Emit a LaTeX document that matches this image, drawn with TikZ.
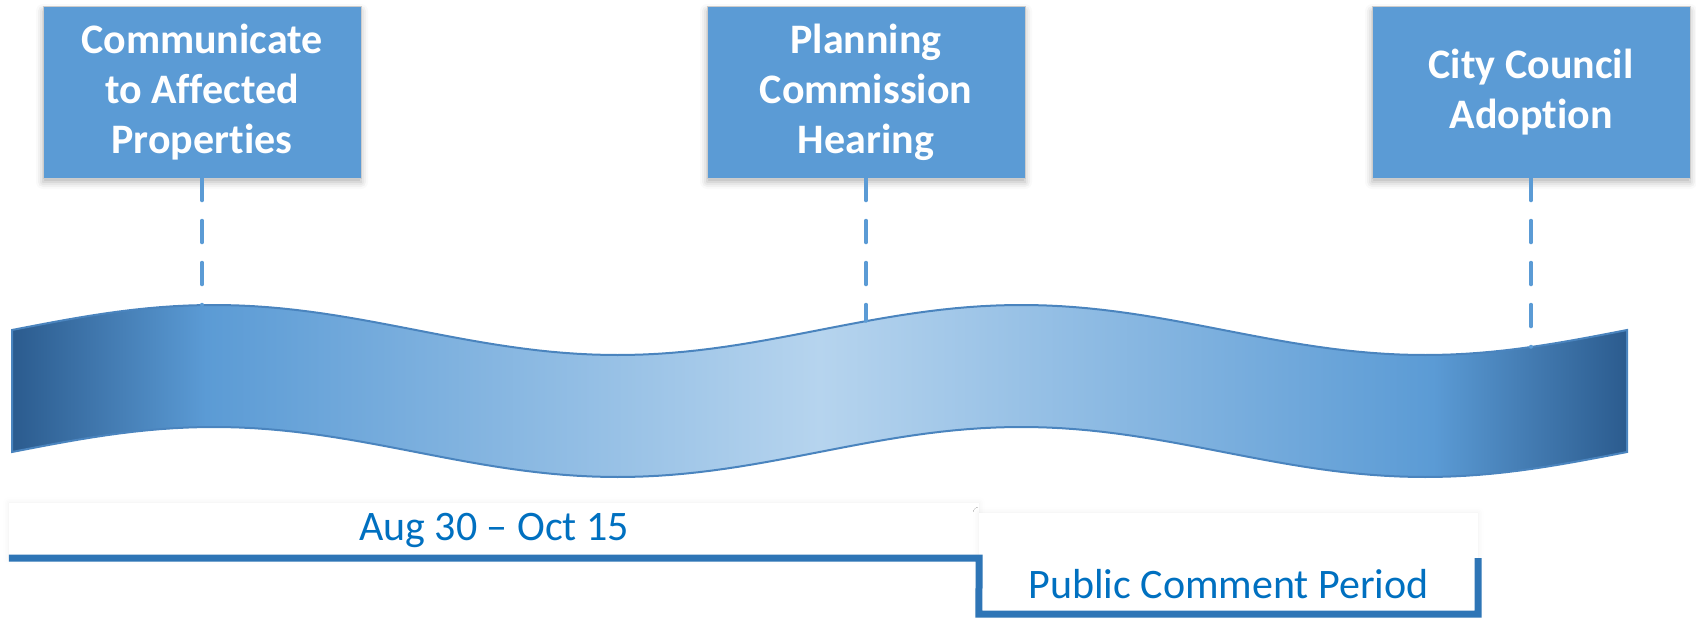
\documentclass[tikz,border=0pt]{standalone}
\usepackage{fontspec}
\setmainfont{Carlito}[Ligatures={TeX,NoCommon}]
\usepackage{tikz}
\usetikzlibrary{calc,positioning,shadows.blur}
\definecolor{stageblue}{HTML}{5B9BD5}
\definecolor{ribdark}{HTML}{2B5B8E}
\definecolor{riblight}{HTML}{B6D4EE}
\definecolor{ribedge}{HTML}{4A84BE}
\definecolor{brackblue}{HTML}{2E75B6}
\definecolor{periodblue}{HTML}{0070C0}
\pgfdeclarehorizontalshading{ribbonshade}{100bp}{color(0bp)=(ribdark); color(25bp)=(ribdark); color(31bp)=(stageblue); color(50bp)=(riblight); color(69bp)=(stageblue); color(75bp)=(ribdark); color(100bp)=(ribdark)}
\newcommand{\stageat}[3]{\node[stage] (#1) at #2 {#3} ;}
\newcommand{\dropline}[2]{\draw[tick] (#1.south)--(#2) ;}

\begin{document}
\begin{tikzpicture}[x=1pt,y=-1pt,
    stage/.style={rectangle,fill=stageblue,draw=gray!40,line width=1pt,
      minimum width=318pt,minimum height=171pt,text=white,align=center,
      font=\fontsize{42}{50}\selectfont\bfseries,
      blur shadow={shadow xshift=0pt,shadow yshift=-4pt,shadow blur radius=7pt,shadow opacity=30}},
    tick/.style={stageblue,line width=3.5pt,line cap=round,dash pattern=on 22pt off 20pt},
    ribbon/.style={shading=ribbonshade,draw=ribedge,line width=2pt},
    panel/.style={rectangle,fill=white,inner sep=0pt,
      blur shadow={shadow xshift=0pt,shadow yshift=0pt,shadow blur radius=6pt,shadow opacity=6}},
    period/.style={text=periodblue,font=\fontsize{42}{50}\selectfont},
    bracket/.style={draw=brackblue,line width=7pt,line join=miter}]
    \useasboundingbox (0,0) rectangle (1696,618);

    % bottom brackets
    \node[panel,minimum width=970pt,minimum height=55pt] (dates) at (494,530.5) {};
    \node[panel,minimum width=499pt,minimum height=101pt] (comment) at (1228.5,563.5) {};
    \node[period] (datelbl) at (dates.center) {Aug 30 – Oct 15};
    \node[period] (commentlbl) at ([yshift=30pt]comment.south) {Public Comment Period};
    \draw[bracket] (dates.south west) -- (dates.south east) -- (comment.south west)
        -- (comment.south east) -- (comment.south east |- dates.south);

    % wavy ribbon
    \path[ribbon] plot[domain=0:1615,samples=121] ({12+\x},{330-25*sin(\x*0.44582)})
        -- plot[domain=1615:0,samples=121] ({12+\x},{452-25*sin(\x*0.44582)}) -- cycle;
    \coordinate (r1) at (202,305);
    \coordinate (r2) at (866,321);
    \coordinate (r3) at (1531,347);

    % milestones
    \stageat{notify}{(202,92.5)}{Communicate\\to Affected\\Properties}
    \stageat{hearing}{(866,92.5)}{Planning\\Commission\\Hearing}
    \stageat{adopt}{(1531,92.5)}{City Council\\Adoption}
    \dropline{notify}{r1}
    \dropline{hearing}{r2}
    \dropline{adopt}{r3}
\end{tikzpicture}
\end{document}
